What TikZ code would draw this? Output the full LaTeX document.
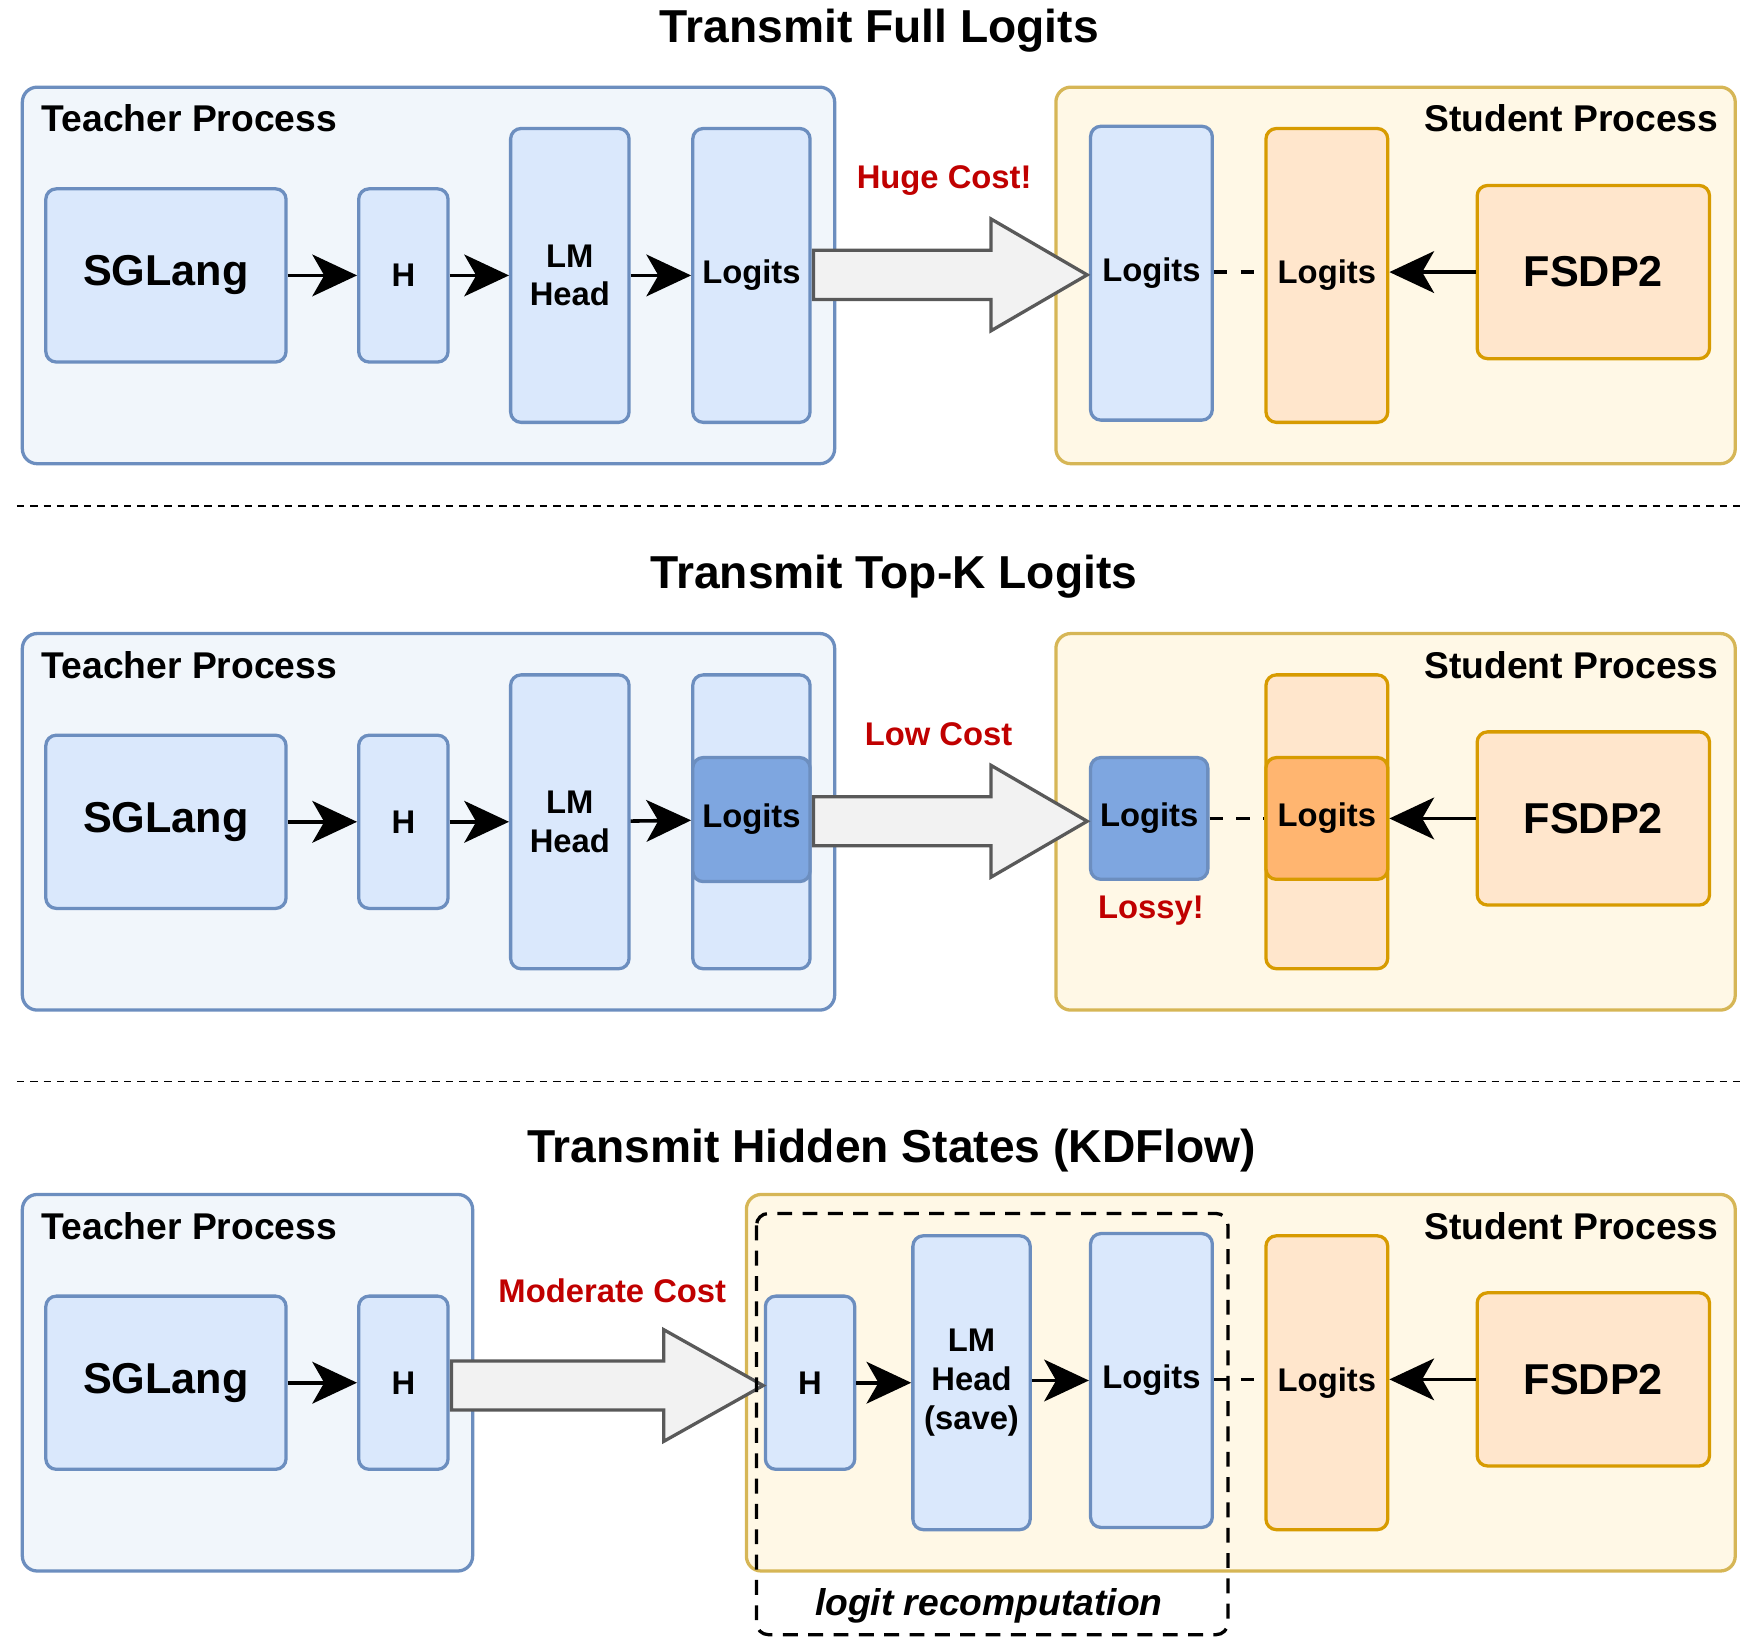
\documentclass[tikz,border=0pt]{standalone}
\usepackage{fontspec}
\setmainfont{Liberation Sans}
\usetikzlibrary{arrows.meta}
\definecolor{bfill}{HTML}{DAE8FC}
\definecolor{bline}{HTML}{6C8EBF}
\definecolor{bdark}{HTML}{7EA6E0}
\definecolor{tpanel}{HTML}{F1F6FB}
\definecolor{spanel}{HTML}{FFF8E6}
\definecolor{sline}{HTML}{D6B656}
\definecolor{ofill}{HTML}{FFE6CC}
\definecolor{oline}{HTML}{D79B00}
\definecolor{odark}{HTML}{FFB570}
\definecolor{costred}{HTML}{C00000}
\tikzset{
  sz/.style 2 args={minimum width=#1*0.75pt, minimum height=#2*0.75pt},
  blk/.style={draw=bline, fill=bfill, line width=2.2pt, rounded corners=7pt, inner sep=0pt, font=\bfseries\fontsize{22}{26}\selectfont, align=center},
  oblk/.style={blk, draw=oline, fill=ofill},
  bigtext/.style={font=\bfseries\fontsize{29}{34}\selectfont},
  tpan/.style={draw=bline, fill=tpanel, line width=2.2pt, rounded corners=10pt, inner sep=0pt},
  span/.style={tpan, draw=sline, fill=spanel},
  plabel/.style={font=\bfseries\fontsize{25}{30}\selectfont, inner sep=0pt},
  title/.style={font=\bfseries\fontsize{31}{36}\selectfont, inner sep=0pt},
  cost/.style={font=\bfseries\fontsize{22}{26}\selectfont, text=costred, inner sep=0pt},
  flow/.style={-{Stealth[length=30pt,width=28pt,inset=8pt]}, line width=2.4pt},
  fat/.style={draw=black!65, fill=black!5, line width=2.2pt, line join=miter},
  link/.style={dashed, line width=2.2pt, dash pattern=on 9pt off 9pt}
}
\begin{document}
\begin{tikzpicture}[x=0.75pt,y=-0.75pt]
\useasboundingbox (0,0) rectangle (1568,1474);
% --- full logits
\node[title] (t1) at (787,27) {Transmit Full Logits};
\node[tpan, sz={727}{337}] (tp1) at (383.5,246.5) {};
\node[span, sz={608}{337}] (sp1) at (1249,246.5) {};
\node[plabel, anchor=west] at (37,106) {Teacher Process};
\node[plabel, anchor=east] at (1538,106) {Student Process};
\node[blk, bigtext, sz={215}{155}] (sg1) at (148.5,246.5) {SGLang};
\node[blk, sz={80}{155}] (h1) at (361,246.5) {H};
\node[blk, sz={106}{263}] (lm1) at (510,246.5) {LM\\Head};
\node[blk, sz={105}{263}] (tl1) at (672.5,246.5) {Logits};
\node[blk, sz={109}{263}] (sl1) at (1030.5,244.5) {Logits};
\node[oblk, sz={109}{263}] (ol1) at (1187.5,246.5) {Logits};
\node[oblk, bigtext, sz={208}{155}] (fs1) at (1426,243.5) {FSDP2};
\draw[flow] (sg1) -- (h1);
\draw[flow] (h1) -- (lm1);
\draw[flow] (lm1) -- (tl1);
\draw[flow] (fs1.west) -- (ol1.east |- fs1.west);
\draw[link] (sl1.east |- fs1.west) -- (ol1.west |- fs1.west);
\draw[fat] (728,224) -- (887,224) -- (887,196) -- (973,246) -- (887,296) -- (887,268) -- (728,268) -- cycle;
\node[cost] at (845,162) {Huge Cost!};
\draw[dashed, line width=1pt, dash pattern=on 5pt off 4pt] (15,453) -- (1560,453);
% --- top-k logits
\node[title] (t2) at (800,516) {Transmit Top-K Logits};
\node[tpan, sz={727}{337}] (tp2) at (383.5,735.5) {};
\node[span, sz={608}{337}] (sp2) at (1249,735.5) {};
\node[plabel, anchor=west] at (37,595) {Teacher Process};
\node[plabel, anchor=east] at (1538,595) {Student Process};
\node[blk, bigtext, sz={215}{155}] (sg2) at (148.5,735.5) {SGLang};
\node[blk, sz={80}{155}] (h2) at (361,735.5) {H};
\node[blk, sz={106}{263}] (lm2) at (510,735.5) {LM\\Head};
\node[blk, sz={105}{263}] (tl2) at (672.5,735.5) {};
\node[blk, fill=bdark, sz={105}{111}] (tk2) at (672.5,733.5) {Logits};
\node[oblk, sz={109}{263}] (ol2) at (1187.5,735.5) {};
\node[oblk, fill=odark, sz={109}{109}] (ok2) at (1187.5,732.5) {Logits};
\node[blk, fill=bdark, sz={105}{109}] (sl2) at (1028.5,732.5) {Logits};
\node[oblk, bigtext, sz={208}{155}] (fs2) at (1426,732.5) {FSDP2};
\draw[flow] (sg2) -- (h2);
\draw[flow] (h2) -- (lm2);
\draw[flow] (lm2) -- (tk2);
\draw[flow] (fs2) -- (ok2);
\draw[link] (sl2) -- (ok2);
\draw[fat] (728,713) -- (887,713) -- (887,685) -- (973,735) -- (887,785) -- (887,757) -- (728,757) -- cycle;
\node[cost] at (840,657) {Low Cost};
\node[cost] at (1030,815) {Lossy!};
\draw[dashed, line width=1pt, dash pattern=on 5pt off 4pt] (15,968) -- (1560,968);
% --- hidden states
\node[title] (t3) at (798,1030) {Transmit Hidden States (KDFlow)};
\node[tpan, sz={403}{337}] (tp3) at (221.5,1237.5) {};
\node[span, sz={885}{337}] (sp3) at (1110.5,1237.5) {};
\node[plabel, anchor=west] at (37,1097) {Teacher Process};
\node[plabel, anchor=east] at (1538,1097) {Student Process};
\node[blk, bigtext, sz={215}{155}] (sg3) at (148.5,1237.5) {SGLang};
\node[blk, sz={80}{155}] (h3) at (361,1237.5) {H};
\node[blk, sz={80}{155}] (sh3) at (725,1237.5) {H};
\node[blk, sz={105}{263}] (lm3) at (869.5,1237.5) {LM\\Head\\(save)};
\node[blk, sz={109}{263}] (sl3) at (1030.5,1235.5) {Logits};
\node[oblk, sz={109}{263}] (ol3) at (1187.5,1237.5) {Logits};
\node[oblk, bigtext, sz={208}{155}] (fs3) at (1426,1234.5) {FSDP2};
\draw[flow] (sg3) -- (h3);
\draw[flow] (sh3) -- (lm3.west |- sh3);
\draw[flow] (lm3.east |- sl3) -- (sl3);
\draw[flow] (fs3.west) -- (ol3.east |- fs3.west);
\draw[link] (sl3.east |- fs3.west) -- (ol3.west |- fs3.west);
\draw[fat] (404,1218) -- (594,1218) -- (594,1190) -- (683,1240) -- (594,1290) -- (594,1262) -- (404,1262) -- cycle;
\node[cost] at (548,1155) {Moderate Cost};
\draw[line width=2.2pt, dashed, dash pattern=on 10pt off 7pt, rounded corners=8pt] (677,1086) rectangle (1099,1463);
\node[font=\bfseries\itshape\fontsize{25}{30}\selectfont] at (885,1437) {logit recomputation};
\end{tikzpicture}
\end{document}
